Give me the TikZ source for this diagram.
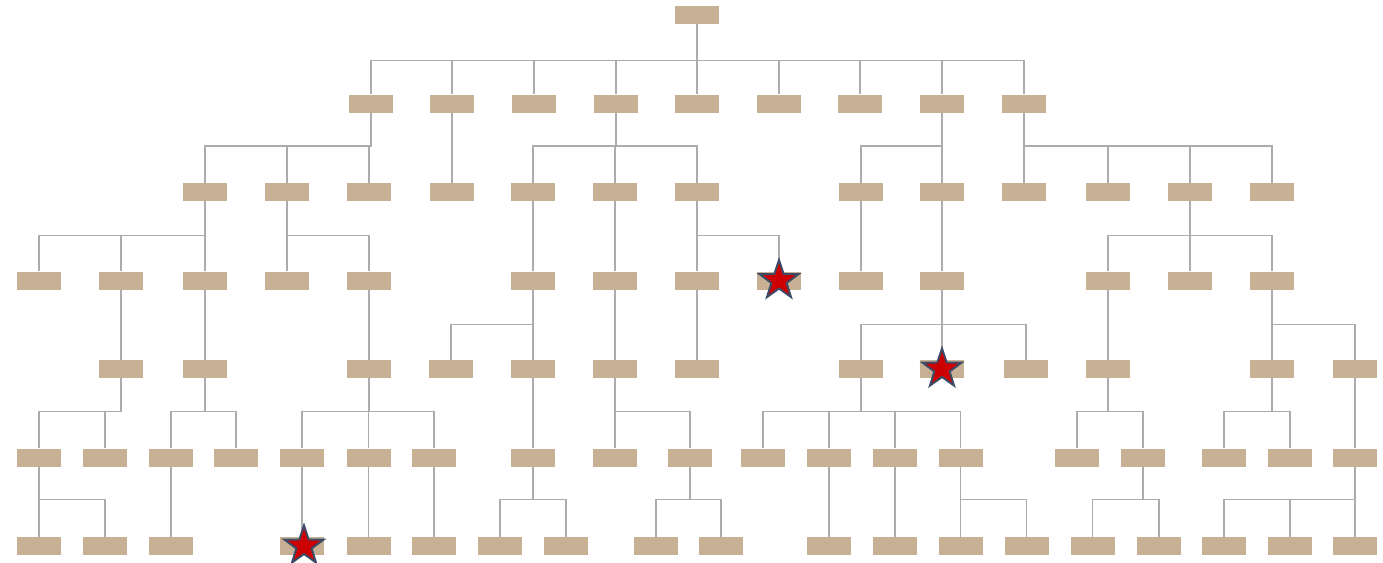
\documentclass[tikz,border=0pt]{standalone}
\usepackage{tikz}
\usetikzlibrary{shapes.geometric}
\usepackage{xcolor}
\definecolor{boxtan}{RGB}{200,176,148}
\definecolor{linkgray}{RGB}{172,172,176}
\definecolor{starred}{RGB}{204,0,0}
\definecolor{staredge}{RGB}{60,76,104}

\begin{document}
\begin{tikzpicture}[x=0.02cm, y=-0.02cm,
  box/.style={rectangle, fill=boxtan, minimum width=0.88cm, minimum height=0.36cm, inner sep=0pt},
  link/.style={draw=linkgray, line width=0.9pt},
  redstar/.style={star, star points=5, star point ratio=2.55, minimum size=0.82cm, inner sep=0pt, fill=starred, draw=staredge, line width=1.1pt}]
  \useasboundingbox (0,0) rectangle (1383,562);
  % Ebene 0
  \node[box] (b0-1) at (697,15) {};
  % Ebene 1
  \foreach \x [count=\i] in {371,452,534,616,697,779,860,942,1024}
    \node[box] (b1-\i) at (\x,103.5) {};
  % Ebene 2
  \foreach \x [count=\i] in {205,287,369,452,533,615,697,861,942,1024,1108,1190,1272}
    \node[box] (b2-\i) at (\x,192) {};
  % Ebene 3
  \foreach \x [count=\i] in {39,121,205,287,369,533,615,697,779,861,942,1108,1190,1272}
    \node[box] (b3-\i) at (\x,280.5) {};
  % Ebene 4
  \foreach \x [count=\i] in {121,205,369,451,533,615,697,861,942,1026,1108,1272,1355}
    \node[box] (b4-\i) at (\x,369) {};
  % Ebene 5
  \foreach \x [count=\i] in {39,105,171,236,302,368.5,434,533,615,690,763,829,895,960.5,1077,1143,1224,1290,1355}
    \node[box] (b5-\i) at (\x,457.5) {};
  % Ebene 6
  \foreach \x [count=\i] in {39,105,171,302,368.5,434,500,566,656,721,829,895,960.5,1026.5,1092.5,1159,1224,1290,1355}
    \node[box] (b6-\i) at (\x,546) {};
  % Verbindungen
  \foreach \c in {1,...,9}
    \draw[link] (b0-1.south) -- ++(0,36) -| (b1-\c.north);
  \foreach \p/\c in {1/1,1/2,1/3,2/4,4/5,4/6,4/7,8/8,8/9,9/10,9/11,9/12,9/13}
    \draw[link] (b1-\p.south) -- ++(0,33) -| (b2-\c.north);
  \foreach \p/\c in {1/1,1/2,1/3,2/4,2/5,5/6,6/7,7/8,7/9,8/10,9/11,12/12,12/13,12/14}
    \draw[link] (b2-\p.south) -- ++(0,34) -| (b3-\c.north);
  \foreach \p/\c in {2/1,3/2,5/3,6/4,6/5,7/6,8/7,11/8,11/9,11/10,12/11,14/12,14/13}
    \draw[link] (b3-\p.south) -- ++(0,34.5) -| (b4-\c.north);
  \foreach \p/\c in {1/1,1/2,2/3,2/4,3/5,3/6,3/7,5/8,6/9,6/10,8/11,8/12,8/13,8/14,11/15,11/16,12/17,12/18,13/19}
    \draw[link] (b4-\p.south) -- ++(0,33) -| (b5-\c.north);
  \foreach \p/\c in {1/1,1/2,3/3,5/4,6/5,7/6,8/7,8/8,10/9,10/10,12/11,13/12,14/13,14/14,16/15,16/16,19/17,19/18,19/19}
    \draw[link] (b5-\p.south) -- ++(0,32.5) -| (b6-\c.north);
  % Sterne
  \node[redstar] (star1) at (b3-9.center) {};
  \node[redstar] (star2) at (b4-9.center) {};
  \node[redstar] (star3) at ([xshift=0.04cm]b6-4.center) {};
\end{tikzpicture}
\end{document}
